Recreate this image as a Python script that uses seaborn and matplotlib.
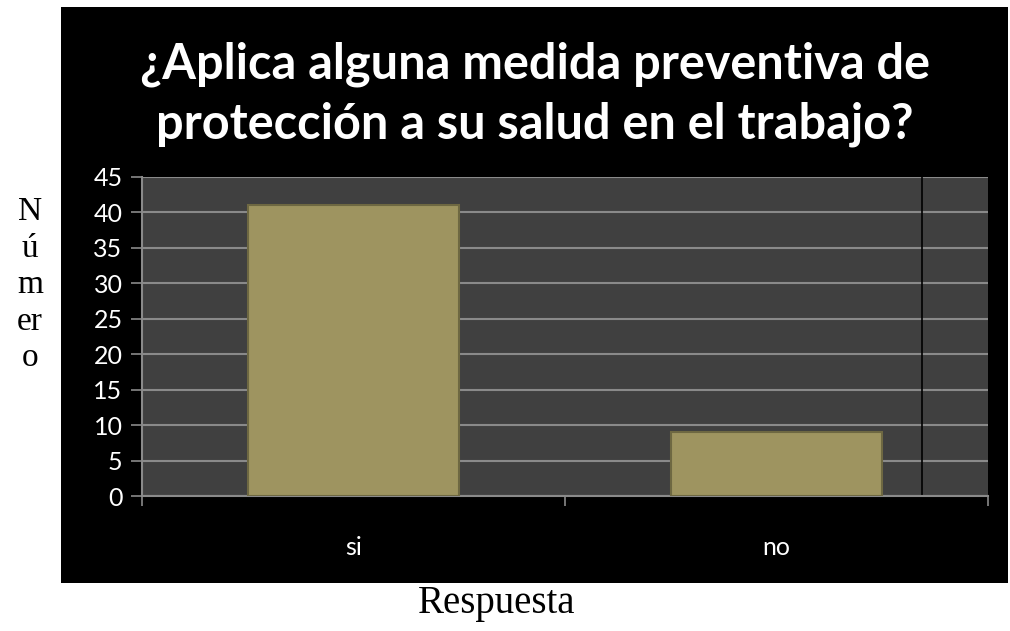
import matplotlib
matplotlib.use("Agg")
import matplotlib.pyplot as plt
import seaborn as sns
import pandas as pd
from matplotlib.patches import Rectangle

categories = ["si", "no"]
values = [41, 9]
y_ticks = [0, 5, 10, 15, 20, 25, 30, 35, 40, 45]
title = "¿Aplica alguna medida preventiva de\nprotección a su salud en el trabajo?"
y_label = "N\nú\nm\ner\no"
x_label = "Respuesta"

sns.set_theme(style="white")
plt.rcParams["font.family"] = ["Lato", "DejaVu Sans"]

W, H = 1010, 631
fig = plt.figure(figsize=(W / 100, H / 100), dpi=100, facecolor="white")

# black chart area
fig.patches.append(Rectangle((61 / W, (H - 583) / H), (1008 - 61) / W, (583 - 7) / H,
                             transform=fig.transFigure, facecolor="black",
                             edgecolor="none", zorder=-5))

ax = fig.add_axes([142 / W, (H - 496) / H, (988 - 142) / W, (496 - 177) / H])
ax.set_zorder(2)
ax.set_facecolor("#404040")

df = pd.DataFrame({"cat": categories, "val": values})
sns.barplot(data=df, x="cat", y="val", color="#9E9460", saturation=1, width=0.5,
            edgecolor="#6e6842", linewidth=1.5, ax=ax, zorder=3)

ax.set_ylim(0, 45)
ax.set_xlim(-0.5, 1.5)
ax.set_yticks(y_ticks)
ax.yaxis.grid(True, color="#8a8a8a", linewidth=1.5, zorder=1)
ax.set_axisbelow(True)
ax.axvline(1.345, color="black", linewidth=1.2, zorder=2)

for s in ["top", "right"]:
    ax.spines[s].set_visible(False)
for s in ["left", "bottom"]:
    ax.spines[s].set_color("#8a8a8a")
    ax.spines[s].set_linewidth(1.5)

ax.tick_params(axis="y", direction="out", length=8, width=1.2, color="#8a8a8a",
               labelcolor="white", labelsize=18, pad=6, left=True)
ax.set_xticks([-0.5, 0.5, 1.5], minor=True)
ax.tick_params(axis="x", which="minor", direction="out", length=7, width=1.2,
               color="#8a8a8a", bottom=True)
ax.tick_params(axis="x", which="major", length=0, labelcolor="white",
               labelsize=18, pad=29)
ax.set_xlabel("")
ax.set_ylabel("")

fig.text(535 / W, 1 - 94 / H, title, ha="center", va="center", color="white",
         fontsize=35, fontweight="bold", linespacing=1.38)

fig.text(30 / W, 1 - 285 / H, y_label, ha="center", va="center", color="black",
         fontsize=24, family=["Liberation Serif", "DejaVu Serif"], linespacing=1.25)
fig.text(497 / W, 1 - 604 / H, x_label, ha="center", va="center", color="black",
         fontsize=28, family=["Liberation Serif", "DejaVu Serif"])

fig.savefig("out.png", dpi=100, facecolor="white")
